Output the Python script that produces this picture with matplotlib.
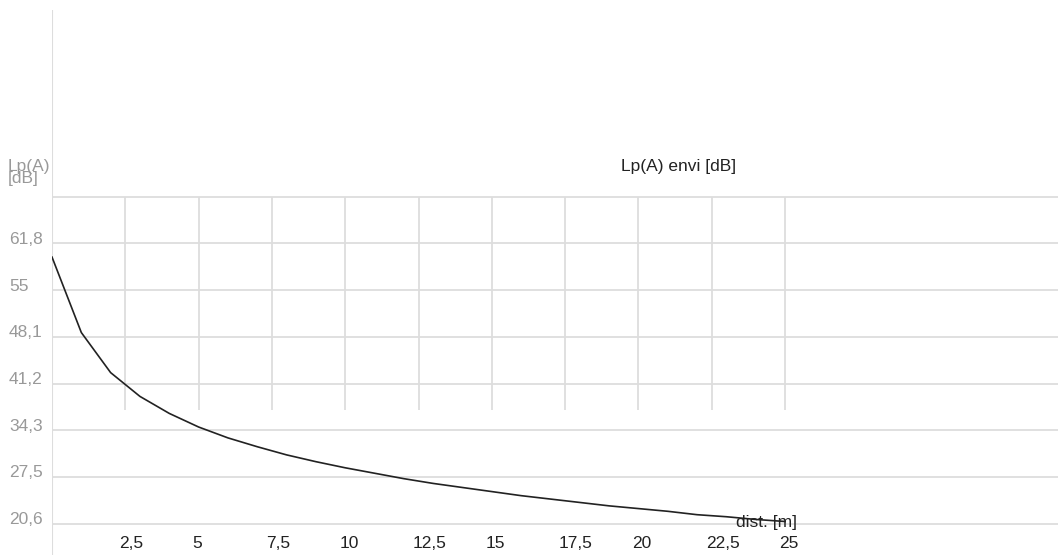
import matplotlib.pyplot as plt
from matplotlib import transforms

plt.rcParams['font.family'] = ['Liberation Sans', 'DejaVu Sans']

# Data
dist = [0, 1, 2, 3, 4, 5, 6, 7, 8, 9, 10, 11, 12, 13, 14, 15, 16, 17, 18,
        19, 20, 21, 22, 23, 24, 25]
lp_envi = [59.8, 48.7, 42.8, 39.3, 36.8, 34.8, 33.2, 31.9, 30.7, 29.7, 28.8,
           28.0, 27.2, 26.5, 25.9, 25.3, 24.7, 24.2, 23.7, 23.2, 22.8, 22.4,
           21.9, 21.6, 21.2, 20.9]

y_ticks = [20.6, 27.47, 34.33, 41.2, 48.07, 54.93, 61.8]
y_labels = ["20,6", "27,5", "34,3", "41,2", "48,1", "55", "61,8"]
y_top_grid = 68.67
x_ticks = [2.5, 5, 7.5, 10, 12.5, 15, 17.5, 20, 22.5, 25]
x_labels = ["2,5", "5", "7,5", "10", "12,5", "15", "17,5", "20", "22,5", "25"]

W, H = 1058, 555
fig = plt.figure(figsize=(W / 100, H / 100), dpi=100)
ax = fig.add_axes([52 / W, 0, (W - 52) / W, 545 / H])
ax.set_xlim(0, 34.31)
ax.set_ylim(15.97, 96.15)
ax.axis("off")

grid_c = "#dddddd"
# horizontal grid
for yv in y_ticks + [y_top_grid]:
    ax.axhline(yv, color=grid_c, lw=1.3, zorder=1)
# vertical grid (only the upper band)
ax.vlines(x_ticks, 37.37, y_top_grid, color=grid_c, lw=1.3, zorder=1)
# y axis line
ax.axvline(0, color="#dddddd", lw=1.5, zorder=1)

ax.plot(dist, lp_envi, color="#222222", lw=1.2, zorder=3)

# y tick labels
tr_y = transforms.blended_transform_factory(
    fig.transFigure,
    transforms.offset_copy(ax.transData, fig=fig, x=0, y=4, units="dots"))
for yv, lab in zip(y_ticks, y_labels):
    fig.text(9 / W, yv, lab, transform=tr_y, ha="left", va="center",
             fontsize=12.5, color="#999999")
# x tick labels
tr_x = transforms.blended_transform_factory(
    transforms.offset_copy(ax.transData, fig=fig, x=-6, y=0, units="dots"),
    fig.transFigure)
for xv, lab in zip(x_ticks, x_labels):
    fig.text(xv, 1 - 543 / H, lab, transform=tr_x, ha="left", va="center",
             fontsize=12.5, color="#222222")

fig.text(8 / W, 1 - 166 / H, "Lp(A)", ha="left", va="center", fontsize=12.5,
         color="#999999")
fig.text(8 / W, 1 - 179 / H, "[dB]", ha="left", va="center", fontsize=12.5,
         color="#999999")
fig.text(621 / W, 1 - 166 / H, "Lp(A) envi [dB]", ha="left", va="center",
         fontsize=12.5, color="#222222")
fig.text(736 / W, 1 - 522 / H, "dist. [m]", ha="left", va="center",
         fontsize=12.5, color="#222222", zorder=5)

fig.savefig("out.png", dpi=100)
